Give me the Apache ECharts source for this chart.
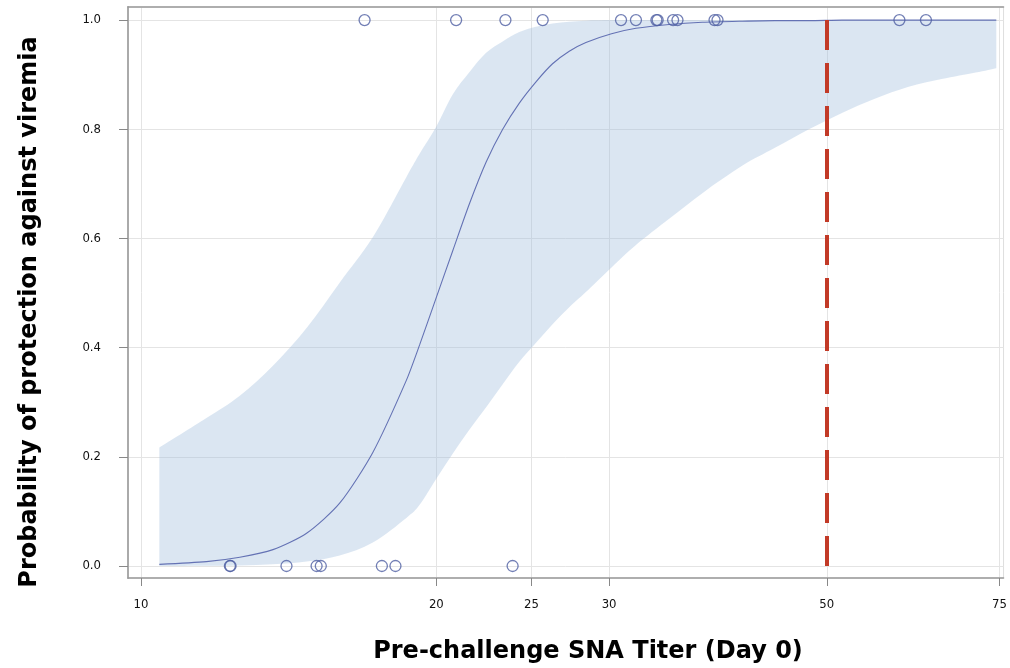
<!DOCTYPE html>
<html>
<head>
<meta charset="utf-8">
<script src="https://cdn.jsdelivr.net/npm/echarts@6/dist/echarts.min.js"></script>
<style>html,body{margin:0;padding:0;background:#fff;}#chart{width:1010px;height:668px;}</style>
</head>
<body>
<div id="chart"></div>
<script>
// Tick labels
const titerTicks = [10, 20, 25, 30, 50, 75];
const probTicks = [0, 0.2, 0.4, 0.6, 0.8, 1.0];
// Fitted curve and confidence band (titer, probability)
const fitTiter = [10.44, 11.66, 12.61, 13.63, 14.75, 15.94, 17.23, 18.64, 19.23, 20.00, 20.79, 21.62, 22.48, 23.37, 24.30, 25.27, 26.27, 27.32, 28.41, 30.17, 31.95, 34.54, 37.34, 40.99, 44.27, 47.95, 51.81, 55.96, 60.59, 65.47, 70.90, 74.43];
const fitProb = [0.0030, 0.0080, 0.016, 0.030, 0.060, 0.115, 0.208, 0.340, 0.405, 0.492, 0.578, 0.664, 0.740, 0.800, 0.848, 0.887, 0.920, 0.943, 0.959, 0.975, 0.985, 0.992, 0.996, 0.998, 0.999, 0.999, 1.0, 1.0, 1.0, 1.0, 1.0, 1.0];
const upperProb = [0.217, 0.271, 0.312, 0.367, 0.436, 0.519, 0.602, 0.712, 0.755, 0.805, 0.864, 0.905, 0.940, 0.961, 0.978, 0.988, 0.994, 0.997, 0.999, 1.0, 1.0, 1.0, 1.0, 1.0, 1.0, 1.0, 1.0, 1.0, 1.0, 1.0, 1.0, 1.0];
const lowerProb = [0.0, 0.0005, 0.001, 0.003, 0.008, 0.019, 0.043, 0.088, 0.112, 0.160, 0.206, 0.25, 0.291, 0.333, 0.374, 0.409, 0.443, 0.474, 0.502, 0.547, 0.588, 0.636, 0.683, 0.733, 0.766, 0.800, 0.830, 0.856, 0.878, 0.892, 0.904, 0.912];
// Observed animals
const protectedTiter = [16.90, 20.95, 23.52, 25.67, 30.85, 31.95, 33.52, 33.62, 34.86, 35.22, 38.42, 38.69, 59.29, 63.10];
const unprotectedTiter = [12.32, 12.34, 14.07, 15.10, 15.25, 17.60, 18.17, 23.92];
const thresholdTiter = 50;

const lg = v => Math.log10(v);
const xMin = 0.98677, xMax = 1.87912;
const yMin = -0.022, yMax = 1.024;
const tickFont = { fontFamily: '"Liberation Sans Narrow","DejaVu Sans Condensed","Roboto Condensed",sans-serif', fontSize: 13, color: '#111' };
const bandData = fitTiter.map((t, i) => [lg(t), lowerProb[i], upperProb[i]]);

// Catmull-Rom smoothing of a pixel polyline into cubic bezier path commands
function smoothSegs(p) {
  let s = '';
  for (let i = 0; i < p.length - 1; i++) {
    const p0 = p[Math.max(i - 1, 0)], p1 = p[i], p2 = p[i + 1], p3 = p[Math.min(i + 2, p.length - 1)];
    const c1 = [p1[0] + (p2[0] - p0[0]) / 6, p1[1] + (p2[1] - p0[1]) / 6];
    const c2 = [p2[0] - (p3[0] - p1[0]) / 6, p2[1] - (p3[1] - p1[1]) / 6];
    s += ' C' + c1[0] + ' ' + c1[1] + ' ' + c2[0] + ' ' + c2[1] + ' ' + p2[0] + ' ' + p2[1];
  }
  return s;
}

const chart = echarts.init(document.getElementById('chart'), null, { renderer: 'canvas' });
chart.setOption({
  animation: false,
  backgroundColor: '#fff',
  grid: { left: 128, right: 5, top: 7, bottom: 90, show: true, borderColor: '#dedede', borderWidth: 1 },
  xAxis: [{
    type: 'value', min: xMin, max: xMax,
    axisLine: { show: true, onZero: false, lineStyle: { color: '#999', width: 1.5 } },
    axisTick: { show: true, length: 8, customValues: titerTicks.map(lg), lineStyle: { color: '#888' } },
    axisLabel: Object.assign({ customValues: titerTicks.map(lg), margin: 20, formatter: v => String(Math.round(Math.pow(10, v))) }, tickFont),
    splitLine: { show: true, lineStyle: { color: '#e4e4e4', width: 1 } }
  }, {
    type: 'value', min: xMin, max: xMax, position: 'top',
    axisLine: { show: true, onZero: false, lineStyle: { color: '#999', width: 1.5 } },
    axisTick: { show: false }, axisLabel: { show: false }, splitLine: { show: false }
  }],
  yAxis: {
    type: 'value', min: yMin, max: yMax,
    axisLine: { show: true, onZero: false, lineStyle: { color: '#aaa', width: 2 } },
    axisTick: { show: true, length: 9, customValues: probTicks, lineStyle: { color: '#888' } },
    axisLabel: Object.assign({ customValues: probTicks, margin: 27, formatter: v => v.toFixed(1) }, tickFont),
    splitLine: { show: true, lineStyle: { color: '#e4e4e4', width: 1 } }
  },
  graphic: [
    { type: 'text', x: 30, y: 312, rotation: Math.PI / 2,
      style: { text: 'Probability of protection against viremia', font: 'bold 24px "DejaVu Sans", sans-serif', fill: '#000', textAlign: 'center', textVerticalAlign: 'middle' } },
    { type: 'text', x: 588, y: 652,
      style: { text: 'Pre-challenge SNA Titer (Day 0)', font: 'bold 24px "DejaVu Sans", sans-serif', fill: '#000', textAlign: 'center', textVerticalAlign: 'middle' } }
  ],
  series: [
    { type: 'custom', name: 'band', silent: true, z: 1,
      encode: { x: 0, y: [1, 2] },
      data: bandData,
      renderItem: function (params, api) {
        if (params.dataIndex !== 0) return;
        const up = bandData.map(d => api.coord([d[0], d[2]]));
        const lo = bandData.map(d => api.coord([d[0], d[1]])).reverse();
        let path = 'M' + up[0][0] + ' ' + up[0][1] + smoothSegs(up);
        path += ' L' + lo[0][0] + ' ' + lo[0][1] + smoothSegs(lo) + ' Z';
        return { type: 'path', shape: { pathData: path }, style: { fill: 'rgba(160,188,222,0.38)' } };
      } },
    { type: 'line', name: 'fit', symbol: 'none', silent: true, smooth: 0.25, z: 3,
      lineStyle: { color: '#6472b4', width: 1.1 },
      data: fitTiter.map((t, i) => [lg(t), fitProb[i]]),
      markLine: {
        symbol: 'none', silent: true, label: { show: false },
        lineStyle: { color: '#c23a27', width: 4, type: [30, 13] },
        data: [[{ coord: [lg(thresholdTiter), 1.0] }, { coord: [lg(thresholdTiter), yMin] }]]
      } },
    { type: 'scatter', name: 'protected', symbol: 'circle', symbolSize: 11, z: 4,
      itemStyle: { color: 'rgba(255,255,255,0)', borderColor: '#4f5fa3', borderWidth: 1.3 },
      data: protectedTiter.map(t => [lg(t), 1]) },
    { type: 'scatter', name: 'unprotected', symbol: 'circle', symbolSize: 11, z: 4,
      itemStyle: { color: 'rgba(255,255,255,0)', borderColor: '#4f5fa3', borderWidth: 1.3 },
      data: unprotectedTiter.map(t => [lg(t), 0]) }
  ]
});
</script>
</body>
</html>
